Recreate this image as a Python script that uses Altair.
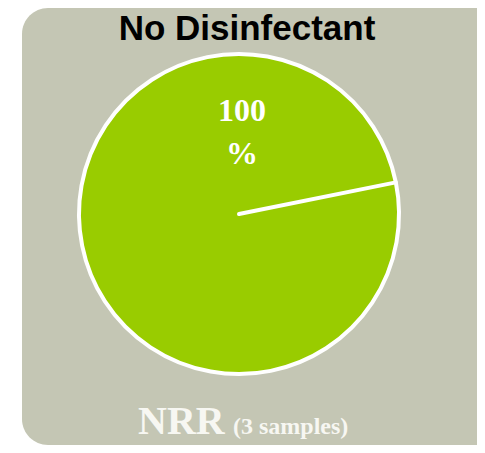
import math
import altair as alt
import pandas as pd

# ---- data ----
TITLE = ["No Disinfectant"]
CATEGORIES = ["NRR", "boundary"]
VALUES = [100, 0]            # one full slice; zero slice draws the start edge
SLICE_LABEL = ["100\n%"]
BOTTOM_MAIN = ["NRR"]
BOTTOM_SUB = ["(3 samples)"]

W, H = 469, 437
BG = "#c4c6b4"
GREEN = "#99cc00"
START = 1.372  # start angle of the pie (radians, clockwise from 12 o'clock)

pie_df = pd.DataFrame({"cat": CATEGORIES, "value": VALUES, "ord": list(range(len(VALUES)))})

bg = alt.Chart(pd.DataFrame({"a": [0]})).mark_rect(
    fill=BG, cornerRadiusTopLeft=26, cornerRadiusBottomLeft=26
).encode(x=alt.value(14), x2=alt.value(W + 40), y=alt.value(0), y2=alt.value(H))

pie = alt.Chart(pie_df).mark_arc(
    outerRadius=160, fill=GREEN, stroke="white", strokeWidth=4, strokeJoin="round"
).encode(
    theta=alt.Theta("value:Q", stack=True,
                    scale=alt.Scale(range=[START, START + 2 * math.pi])),
    detail="cat:N",
    order=alt.Order("ord:Q"),
    x=alt.value(231),
    y=alt.value(206),
)

title = alt.Chart(pd.DataFrame({"t": TITLE})).mark_text(
    font="Liberation Sans", fontWeight="bold", fontSize=35, color="black",
    align="center", baseline="alphabetic"
).encode(text="t:N", x=alt.value(239), y=alt.value(32))

label = alt.Chart(pd.DataFrame({"t": SLICE_LABEL})).mark_text(
    font="Liberation Serif", fontWeight="bold", fontSize=32, color="white",
    align="center", baseline="alphabetic", lineBreak="\n", lineHeight=43
).encode(text="t:N", x=alt.value(234), y=alt.value(113))

bottom_main = alt.Chart(pd.DataFrame({"t": BOTTOM_MAIN})).mark_text(
    font="Liberation Serif", fontWeight="bold", fontSize=40, color="#f7f7f2",
    align="left", baseline="alphabetic"
).encode(text="t:N", x=alt.value(130), y=alt.value(426))

bottom_sub = alt.Chart(pd.DataFrame({"t": BOTTOM_SUB})).mark_text(
    font="Liberation Serif", fontWeight="bold", fontSize=24, color="#f7f7f2",
    align="left", baseline="alphabetic"
).encode(text="t:N", x=alt.value(225), y=alt.value(426))

chart = alt.layer(bg, pie, title, label, bottom_main, bottom_sub).properties(
    width=W, height=H, autosize=alt.AutoSizeParams(type="none"), padding=0,
    background="white"
).configure_view(stroke=None)

chart.save("out.html", embed_options={"renderer": "svg", "actions": False})
